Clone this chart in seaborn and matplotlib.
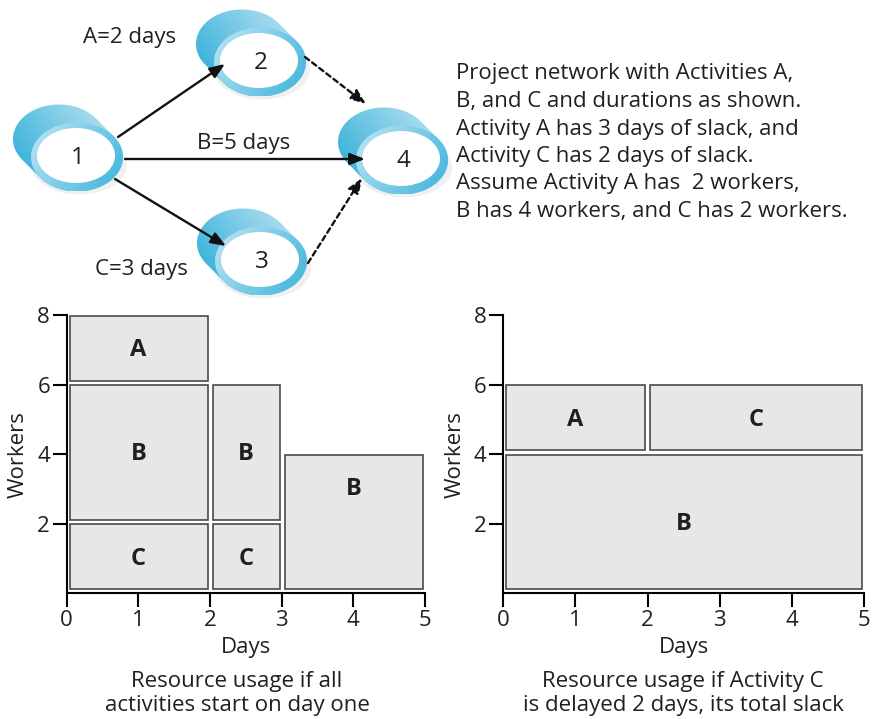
import numpy as np
import matplotlib
matplotlib.use("Agg")
import matplotlib.pyplot as plt
import seaborn as sns
from matplotlib.patches import Ellipse, Polygon

# ---- data ----
# network
node_names = ['1', '2', '3', '4']
edge_from = ['1', '1', '1', '2', '3']
edge_to = ['2', '4', '3', '4', '4']
edge_dashed = [False, False, False, True, True]
duration_labels = ['A=2 days', 'B=5 days', 'C=3 days']
description = [
    'Project network with Activities A,',
    'B, and C and durations as shown.',
    'Activity A has 3 days of slack, and',
    'Activity C has 2 days of slack.',
    'Assume Activity A has  2 workers,',
    'B has 4 workers, and C has 2 workers.',
]

# resource usage, all activities start on day one
left_labels = ['A', 'B', 'C', 'B', 'C', 'B']
left_start = [0, 0, 0, 2, 2, 3]
left_end = [2, 2, 2, 3, 3, 5]
left_bottom = [6, 2, 0, 2, 0, 0]
left_top = [8, 6, 2, 6, 2, 4]

# resource usage, activity C delayed 2 days
right_labels = ['A', 'C', 'B']
right_start = [0, 2, 0]
right_end = [2, 5, 5]
right_bottom = [4, 4, 0]
right_top = [6, 6, 4]

x_ticks = [0, 1, 2, 3, 4, 5]
y_ticks = [2, 4, 6, 8]
left_caption = ['Resource usage if all', 'activities start on day one']
right_caption = ['Resource usage if Activity C', 'is delayed 2 days, its total slack']

# ---- style ----
sns.set_style('ticks')
plt.rcParams['font.family'] = ['Open Sans', 'DejaVu Sans']
TXT = '#231f20'
FS = 16
W, H = 874, 719

fig = plt.figure(figsize=(W / 100, H / 100), dpi=100)

# pixel-coordinate canvas for the network diagram and captions
net = fig.add_axes([0, 0, 1, 1])
net.set_xlim(0, W)
net.set_ylim(H, 0)
net.axis('off')
net.patch.set_alpha(0)


def gradient(ax, clip, x0, x1, y0, y1, c_a, c_b, direction):
    xs = np.linspace(0, 1, 60)
    ys = np.linspace(0, 1, 60)
    X, Y = np.meshgrid(xs, ys)
    t = X * direction[0] + Y * direction[1]
    t = (t - t.min()) / (t.max() - t.min())
    a = np.array(matplotlib.colors.to_rgb(c_a))
    b = np.array(matplotlib.colors.to_rgb(c_b))
    img = a[None, None, :] * (1 - t[..., None]) + b[None, None, :] * t[..., None]
    im = ax.imshow(img, extent=(x0, x1, y1, y0), origin='upper',
                   interpolation='bilinear', zorder=clip.get_zorder())
    im.set_clip_path(clip)


node_pos = {'1': (77, 157), '2': (260, 62), '3': (261, 261), '4': (402, 160)}
rw, rh = 92, 69      # front ring size
back = np.array([-18, -18])

for name in node_names:
    cx, cy = node_pos[name]
    # faint shadow
    net.add_patch(Ellipse((cx + 2, cy + 8), rw + 4, rh - 10, color='#000000',
                          alpha=0.06, lw=0, zorder=1))
    # cylinder body: hull of back and front ellipse
    th = np.linspace(0, 2 * np.pi, 200)
    a, b = rw / 2, rh / 2
    px = cx + a * np.cos(th)
    py = cy + b * np.sin(th)
    use_back = (np.cos(th) / a * back[0] + np.sin(th) / b * back[1]) > 0
    px = px + np.where(use_back, back[0], 0)
    py = py + np.where(use_back, back[1], 0)
    body = Polygon(np.column_stack([px, py]), closed=True, fc='none', ec='none', zorder=2)
    net.add_patch(body)
    gradient(net, body, cx - a + back[0], cx + a, cy - b + back[1], cy + b,
             '#22a9d6', '#c8e8f4', (1.0, -0.6))
    # front ring
    ring = Ellipse((cx, cy), rw, rh, fc='none', ec='none', zorder=3)
    net.add_patch(ring)
    gradient(net, ring, cx - a, cx + a, cy - b, cy + b,
             '#bfe6f4', '#3cb3dc', (1.0, 0.5))
    net.add_patch(Ellipse((cx - 1, cy - 1.5), 78, 55, fc='white', ec='none', zorder=4))
    net.text(cx + 1, cy + 1, name, ha='center', va='center', fontsize=17.5, color=TXT, zorder=5)

edge_start = {('1', '2'): (118, 137), ('1', '4'): (125, 159), ('1', '3'): (115, 179),
              ('2', '4'): (305, 57), ('3', '4'): (308, 263)}
edge_tip = {('1', '2'): (225, 64), ('1', '4'): (365, 159), ('1', '3'): (226, 246),
            ('2', '4'): (366, 104), ('3', '4'): (362, 178)}
for f, t_, dashed in zip(edge_from, edge_to, edge_dashed):
    net.annotate('', xy=edge_tip[(f, t_)], xytext=edge_start[(f, t_)],
                 arrowprops=dict(arrowstyle='-|>,head_length=0.9,head_width=0.35',
                                 color='#111111', lw=1.7,
                                 linestyle=(0, (2.2, 1.6)) if dashed else '-',
                                 shrinkA=0, shrinkB=0), zorder=6)

label_xy = [(130, 38), (244, 143), (141, 270)]
for txt, (lx, ly) in zip(duration_labels, label_xy):
    net.text(lx, ly, txt, ha='center', va='center', fontsize=FS, color=TXT)

for i, line in enumerate(description):
    net.text(456, 74 + 27.5 * i, line, ha='left', va='center', fontsize=FS, color=TXT)

for i, (l_line, r_line) in enumerate(zip(left_caption, right_caption)):
    net.text(237, 682 + 23 * i, l_line, ha='center', va='center', fontsize=FS, color=TXT)
    net.text(683, 682 + 23 * i, r_line, ha='center', va='center', fontsize=FS, color=TXT)


def usage_chart(ax, labels, start, end, bottom, top, label_y):
    start = np.array(start, float)
    end = np.array(end, float)
    bottom = np.array(bottom, float)
    top = np.array(top, float)
    ax.bar(start + 0.04, (top - 0.01) - (bottom + 0.12), width=(end - 0.03) - (start + 0.04),
           bottom=bottom + 0.12, align='edge', color='#e6e7e8', edgecolor='#4a4a4a',
           linewidth=1.2, zorder=2)
    for lab, s, e, ly in zip(labels, start, end, label_y):
        ax.text((s + e) / 2, ly, lab, ha='center', va='center', fontsize=17,
                fontweight='bold', color=TXT, zorder=3)
    ax.set_xlim(0, 5)
    ax.set_ylim(0, 8)
    ax.set_xticks(x_ticks)
    ax.set_yticks(y_ticks)
    ax.set_xlabel('Days', fontsize=FS, color=TXT, labelpad=4)
    ax.set_ylabel('Workers', fontsize=FS, color=TXT, labelpad=6)
    ax.tick_params(length=10, width=1.5, labelsize=FS, colors='black',
                   labelcolor=TXT, pad=2)
    sns.despine(ax=ax)
    for sp in ('left', 'bottom'):
        ax.spines[sp].set_linewidth(1.5)
        ax.spines[sp].set_color('black')
    ax.patch.set_alpha(0)


ax_l = fig.add_axes([66.7 / W, (H - 593.3) / H, (425 - 66.7) / W, (593.3 - 315.3) / H])
usage_chart(ax_l, left_labels, left_start, left_end, left_bottom, left_top,
            [7, 4, 1, 4, 1, 3])

ax_r = fig.add_axes([503.3 / W, (H - 593.3) / H, (864 - 503.3) / W, (593.3 - 315.3) / H])
usage_chart(ax_r, right_labels, right_start, right_end, right_bottom, right_top,
            [5, 5, 2])

fig.savefig('out.png', dpi=100)
